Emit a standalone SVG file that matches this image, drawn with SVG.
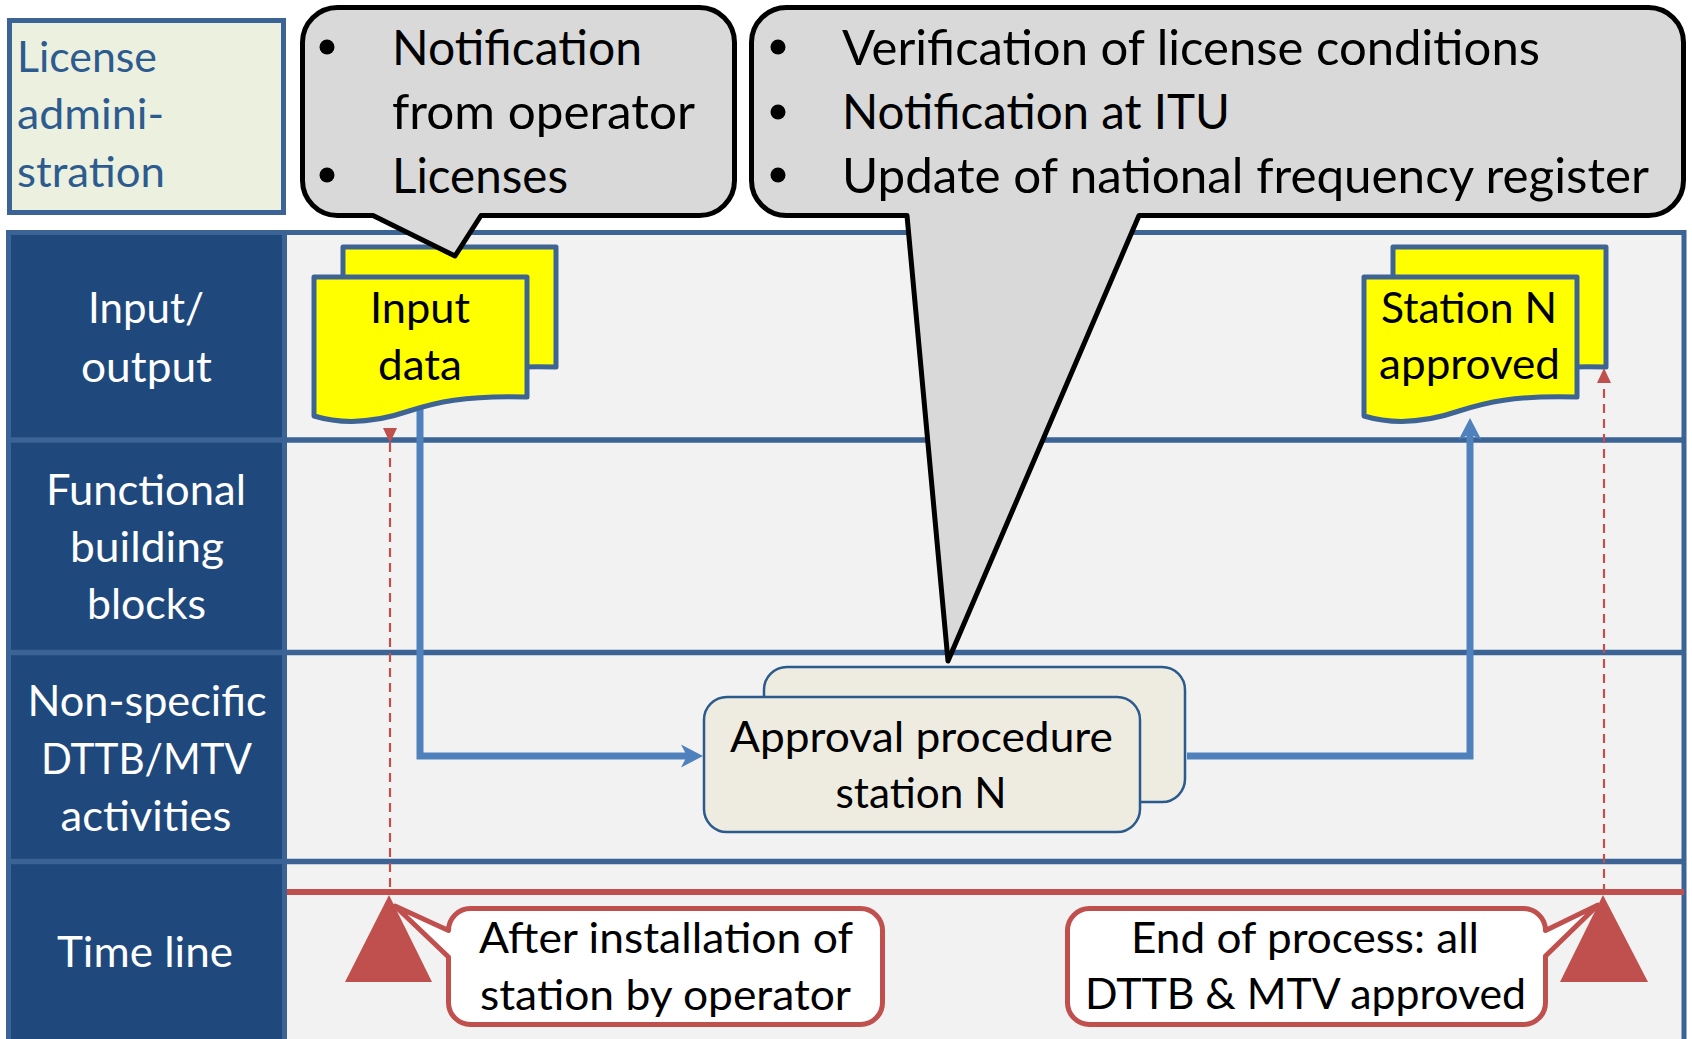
<svg xmlns="http://www.w3.org/2000/svg" width="1692" height="1039" viewBox="0 0 1692 1039">
<style>
text { font-family: Lato, "Open Sans", "Liberation Sans", sans-serif; }
.hdr { fill:#FFFFFF; font-size:42px; text-anchor:middle; }
.lic { fill:#2D5B8F; font-size:42px; }
.blk { fill:#000000; font-size:42px; text-anchor:middle; }
.big { fill:#000000; font-size:47.5px; }
.lane { stroke:#3B6395; stroke-width:5.5; fill:none; }
.doc { fill:#FFFF00; stroke:#3E6494; stroke-width:5; stroke-linejoin:round; }
.proc { fill:#EEECE1; stroke:#2B5A8C; stroke-width:2.5; }
.flow { fill:none; stroke:#4F81BD; stroke-width:7; }
.dash { fill:none; stroke:#C0504D; stroke-width:2.2; stroke-dasharray:9 6; }
.call { fill:#D9D9D9; stroke:#000000; stroke-width:5; stroke-linejoin:round; }
.tcall { fill:#FFFFFF; stroke:#C0504D; stroke-width:5; stroke-linejoin:round; }
.tri { fill:#C0504D; }
.bul { fill:#000000; }
</style>
<defs>
<path id="docShape" d="M0,0 H213 V120 C150,118 120,126 95,134 C60,146 30,148 0,139 Z"/>
<marker id="arrB" markerUnits="userSpaceOnUse" viewBox="0 -12 24 24" markerWidth="24" markerHeight="24" refX="9" refY="0" orient="auto">
<path d="M0,-11.5 L22,0 L0,11.5 L6,0 Z" fill="#4F81BD"/>
</marker>
<marker id="arrR" markerUnits="userSpaceOnUse" viewBox="0 -8 16 16" markerWidth="16" markerHeight="16" refX="15" refY="0" orient="auto">
<path d="M0,-7 L15,0 L0,7 Z" fill="#C0504D"/>
</marker>
</defs>

<g id="pool">
<rect x="284.5" y="232.5" width="1399.5" height="830" fill="#F2F2F2" stroke="#3B6395" stroke-width="5"/>
<rect x="8.5" y="232.5" width="276" height="830" fill="#1F497D" stroke="#3B6395" stroke-width="5"/>
<line class="lane" x1="8" y1="440" x2="1684" y2="440"/>
<line class="lane" x1="8" y1="652.5" x2="1684" y2="652.5"/>
<line class="lane" x1="8" y1="861.5" x2="1684" y2="861.5"/>
<line x1="287" y1="892" x2="1684" y2="892" stroke="#C0504D" stroke-width="6"/>
</g>

<g id="lane-headers">
<text class="hdr" x="146" y="323" textLength="116" lengthAdjust="spacingAndGlyphs">Input/</text>
<text class="hdr" x="146.5" y="382" textLength="131" lengthAdjust="spacingAndGlyphs">output</text>
<text class="hdr" x="146" y="505" textLength="200" lengthAdjust="spacingAndGlyphs">Functional</text>
<text class="hdr" x="147" y="562" textLength="154" lengthAdjust="spacingAndGlyphs">building</text>
<text class="hdr" x="146.5" y="619" textLength="119" lengthAdjust="spacingAndGlyphs">blocks</text>
<text class="hdr" x="147" y="716" textLength="239" lengthAdjust="spacingAndGlyphs">Non-specific</text>
<text class="hdr" x="146.5" y="774" textLength="211" lengthAdjust="spacingAndGlyphs">DTTB/MTV</text>
<text class="hdr" x="146" y="831" textLength="171" lengthAdjust="spacingAndGlyphs">activities</text>
<text class="hdr" x="145" y="967" textLength="176" lengthAdjust="spacingAndGlyphs">Time line</text>
</g>

<g id="license-admin">
<rect x="9.5" y="20.5" width="274" height="192" fill="#EBF1DE" stroke="#3B6395" stroke-width="5"/>
<text class="lic" x="17" y="72" textLength="140" lengthAdjust="spacingAndGlyphs">License</text>
<text class="lic" x="17" y="129" textLength="147" lengthAdjust="spacingAndGlyphs">admini-</text>
<text class="lic" x="17" y="187" textLength="148" lengthAdjust="spacingAndGlyphs">stration</text>
</g>

<g id="connectors">
<path class="flow" d="M420,380 V756 H690" marker-end="url(#arrB)"/>
<path class="flow" d="M1187,756 H1470 V431" marker-end="url(#arrB)"/>
<path class="dash" d="M390,443 V893" marker-start="url(#arrR)"/>
<path class="dash" d="M1604,893 V368" marker-end="url(#arrR)"/>
</g>

<g id="input-data">
<use href="#docShape" class="doc" transform="translate(343,247)"/>
<use href="#docShape" class="doc" transform="translate(314,277)"/>
<text class="blk" x="420" y="323" textLength="100" lengthAdjust="spacingAndGlyphs">Input</text>
<text class="blk" x="420" y="380" textLength="84" lengthAdjust="spacingAndGlyphs">data</text>
</g>

<g id="station-approved">
<use href="#docShape" class="doc" transform="translate(1393,247)"/>
<use href="#docShape" class="doc" transform="translate(1364,277)"/>
<text class="blk" x="1469" y="323" textLength="176" lengthAdjust="spacingAndGlyphs">Station N</text>
<text class="blk" x="1469.5" y="379" textLength="181" lengthAdjust="spacingAndGlyphs">approved</text>
</g>

<g id="approval-procedure">
<rect class="proc" x="764" y="667" width="421" height="135" rx="23"/>
<rect class="proc" x="704" y="697" width="436" height="135" rx="23"/>
<text class="blk" x="921.5" y="752" textLength="383" lengthAdjust="spacingAndGlyphs">Approval procedure</text>
<text class="blk" x="921" y="808" textLength="171" lengthAdjust="spacingAndGlyphs">station N</text>
</g>

<g id="milestone-start">
<polygon class="tri" points="389,895 345,982 432,982"/>
<path class="tcall" d="M470.5,908.5 H860.5 A22,22 0 0 1 882.5,930.5 V1002.5 A22,22 0 0 1 860.5,1024.5 H470.5 A22,22 0 0 1 448.5,1002.5 V957 L395,906 L448.5,930.5 A22,22 0 0 1 470.5,908.5 Z"/>
<text class="blk" x="666" y="953" textLength="374" lengthAdjust="spacingAndGlyphs">After installation of</text>
<text class="blk" x="665.5" y="1010" textLength="371" lengthAdjust="spacingAndGlyphs">station by operator</text>
</g>

<g id="milestone-end">
<polygon class="tri" points="1603,895 1560,982 1648,982"/>
<path class="tcall" d="M1089.5,908.5 H1523.5 A22,22 0 0 1 1545.5,930.5 L1598,905 L1545.5,956 V1002.5 A22,22 0 0 1 1523.5,1024.5 H1089.5 A22,22 0 0 1 1067.5,1002.5 V930.5 A22,22 0 0 1 1089.5,908.5 Z"/>
<text class="blk" x="1305" y="953" textLength="348" lengthAdjust="spacingAndGlyphs">End of process: all</text>
<text class="blk" x="1305.5" y="1009" textLength="441" lengthAdjust="spacingAndGlyphs">DTTB &amp; MTV approved</text>
</g>

<g id="callout-operator">
<path class="call" d="M337.5,7.5 H699.5 A35,35 0 0 1 734.5,42.5 V180.5 A35,35 0 0 1 699.5,215.5 H481 L455,256 L373,215.5 H337.5 A35,35 0 0 1 302.5,180.5 V42.5 A35,35 0 0 1 337.5,7.5 Z"/>
<circle class="bul" cx="327" cy="47" r="7.5"/>
<circle class="bul" cx="327" cy="175" r="7.5"/>
<text class="big" x="392" y="65" textLength="250" lengthAdjust="spacingAndGlyphs">Notification</text>
<text class="big" x="392" y="129" textLength="303" lengthAdjust="spacingAndGlyphs">from operator</text>
<text class="big" x="392" y="193" textLength="176" lengthAdjust="spacingAndGlyphs">Licenses</text>
</g>

<g id="callout-verification">
<path class="call" d="M786.5,7.5 H1648.5 A35,35 0 0 1 1683.5,42.5 V180.5 A35,35 0 0 1 1648.5,215.5 H1139 L948,661 L907,215.5 H786.5 A35,35 0 0 1 751.5,180.5 V42.5 A35,35 0 0 1 786.5,7.5 Z"/>
<circle class="bul" cx="778" cy="47" r="7.5"/>
<circle class="bul" cx="778" cy="112" r="7.5"/>
<circle class="bul" cx="778" cy="175" r="7.5"/>
<text class="big" x="842" y="65" textLength="698" lengthAdjust="spacingAndGlyphs">Verification of license conditions</text>
<text class="big" x="842" y="129" textLength="388" lengthAdjust="spacingAndGlyphs">Notification at ITU</text>
<text class="big" x="842" y="193" textLength="807" lengthAdjust="spacingAndGlyphs">Update of national frequency register</text>
</g>
</svg>
